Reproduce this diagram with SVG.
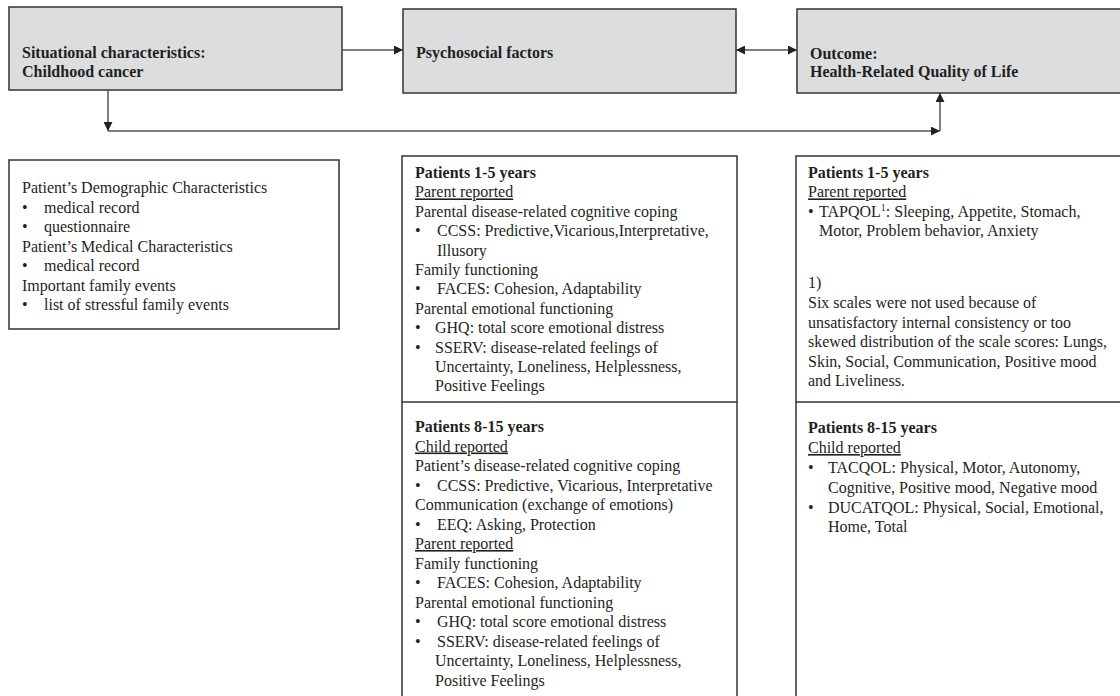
<svg xmlns="http://www.w3.org/2000/svg" width="1120" height="696" viewBox="0 0 1120 696">
<style>
  text { font-family: "Liberation Serif", "Times New Roman", serif; font-size: 16px; fill: #231f20; }
  .b { font-weight: bold; }
  .u { text-decoration: underline; }
  .head { fill: #dcdddf; stroke: #333; stroke-width: 1.5; }
  .box { fill: #ffffff; stroke: #333; stroke-width: 1.5; }
  .sep { stroke: #333; stroke-width: 1.5; }
  .conn { fill: none; stroke: #555; stroke-width: 1.5; }
</style>
<defs>
  <marker id="ah" viewBox="0 0 10 10" refX="10" refY="5" markerWidth="10" markerHeight="9" markerUnits="userSpaceOnUse" orient="auto">
    <path d="M0,0 L10,5 L0,10 Z" fill="#222"/>
  </marker>
  <marker id="ahs" viewBox="0 0 10 10" refX="0" refY="5" markerWidth="10" markerHeight="9" markerUnits="userSpaceOnUse" orient="auto">
    <path d="M10,0 L0,5 L10,10 Z" fill="#222"/>
  </marker>
</defs>
<rect width="1120" height="696" fill="#ffffff"/>

<g id="situational">
  <rect class="head" x="9" y="7" width="333" height="83"/>
  <text class="b" x="22" y="58">Situational characteristics:</text>
  <text class="b" x="22" y="77">Childhood cancer</text>
</g>

<g id="psychosocial">
  <rect class="head" x="403" y="9" width="333" height="84"/>
  <text class="b" x="416" y="58">Psychosocial factors</text>
</g>

<g id="outcome">
  <rect class="head" x="797" y="9" width="340" height="84"/>
  <text class="b" x="810" y="59">Outcome:</text>
  <text class="b" x="810" y="77">Health-Related Quality of Life</text>
</g>

<g id="connectors">
  <line class="conn" x1="342" y1="50" x2="403" y2="50" marker-end="url(#ah)"/>
  <line class="conn" x1="736" y1="50" x2="797" y2="50" marker-start="url(#ahs)" marker-end="url(#ah)"/>
  <line class="conn" x1="108" y1="90" x2="108" y2="131" marker-end="url(#ah)"/>
  <line class="conn" x1="108" y1="131" x2="940" y2="131" marker-end="url(#ah)"/>
  <line class="conn" x1="940" y1="131" x2="940" y2="93" marker-end="url(#ah)"/>
</g>

<g id="situational-details">
  <rect class="box" x="9" y="160" width="330" height="169"/>
  <text x="22" y="193">Patient’s Demographic Characteristics</text>
  <text x="22" y="212.5">•</text><text x="44" y="212.5">medical record</text>
  <text x="22" y="232">•</text><text x="44" y="232">questionnaire</text>
  <text x="22" y="251.5">Patient’s Medical Characteristics</text>
  <text x="22" y="271">•</text><text x="44" y="271">medical record</text>
  <text x="22" y="290.5">Important family events</text>
  <text x="22" y="310">•</text><text x="44" y="310">list of stressful family events</text>
</g>

<g id="psychosocial-details">
  <rect class="box" x="402" y="156" width="335" height="560"/>
  <line class="sep" x1="402" y1="402" x2="737" y2="402"/>
  <text class="b" x="415" y="178">Patients 1-5 years</text>
  <text class="u" x="415" y="197.4">Parent reported </text>
  <text x="415" y="216.8">Parental disease-related cognitive coping</text>
  <text x="415" y="236.2">•</text><text x="437" y="236.2">CCSS: Predictive,Vicarious,Interpretative,</text>
  <text x="437" y="255.6">Illusory</text>
  <text x="415" y="275">Family functioning</text>
  <text x="415" y="294.4">•</text><text x="437" y="294.4">FACES: Cohesion, Adaptability</text>
  <text x="415" y="313.8">Parental emotional functioning</text>
  <text x="415" y="333.2">•</text><text x="435" y="333.2">GHQ: total score emotional distress</text>
  <text x="415" y="352.6">•</text><text x="435" y="352.6">SSERV: disease-related feelings of</text>
  <text x="435" y="372">Uncertainty, Loneliness, Helplessness,</text>
  <text x="435" y="391.4">Positive Feelings</text>

  <text class="b" x="415" y="432">Patients 8-15 years</text>
  <text class="u" x="415" y="451.5">Child reported </text>
  <text x="415" y="471">Patient’s disease-related cognitive coping</text>
  <text x="415" y="490.5">•</text><text x="437" y="490.5">CCSS: Predictive, Vicarious, Interpretative</text>
  <text x="415" y="510">Communication (exchange of emotions)</text>
  <text x="415" y="529.5">•</text><text x="437" y="529.5">EEQ: Asking, Protection</text>
  <text class="u" x="415" y="549">Parent reported </text>
  <text x="415" y="568.5">Family functioning</text>
  <text x="415" y="588">•</text><text x="437" y="588">FACES: Cohesion, Adaptability</text>
  <text x="415" y="607.5">Parental emotional functioning</text>
  <text x="415" y="627">•</text><text x="437" y="627">GHQ: total score emotional distress</text>
  <text x="415" y="646.5">•</text><text x="437" y="646.5">SSERV: disease-related feelings of</text>
  <text x="435" y="666">Uncertainty, Loneliness, Helplessness,</text>
  <text x="435" y="685.5">Positive Feelings</text>
</g>

<g id="outcome-details">
  <rect class="box" x="796" y="156" width="340" height="560"/>
  <line class="sep" x1="796" y1="402" x2="1120" y2="402"/>
  <text class="b" x="808" y="178">Patients 1-5 years</text>
  <text class="u" x="808" y="197.4">Parent reported </text>
  <text x="808" y="216.8">•</text><text x="819" y="216.8">TAPQOL<tspan font-size="10" dy="-6">1</tspan><tspan dy="6">: Sleeping, Appetite, Stomach,</tspan></text>
  <text x="819" y="236.2">Motor, Problem behavior, Anxiety</text>
  <text x="808" y="288">1)</text>
  <text x="808" y="308">Six scales were not used because of</text>
  <text x="808" y="327.5">unsatisfactory internal consistency or too</text>
  <text x="808" y="347">skewed distribution of the scale scores: Lungs,</text>
  <text x="808" y="366.5">Skin, Social, Communication, Positive mood</text>
  <text x="808" y="386">and Liveliness.</text>

  <text class="b" x="808" y="433">Patients 8-15 years</text>
  <text class="u" x="808" y="453">Child reported </text>
  <text x="808" y="473">•</text><text x="828" y="473">TACQOL: Physical, Motor, Autonomy,</text>
  <text x="828" y="493">Cognitive, Positive mood, Negative mood</text>
  <text x="808" y="513">•</text><text x="828" y="513">DUCATQOL: Physical, Social, Emotional,</text>
  <text x="828" y="532">Home, Total</text>
</g>
</svg>
